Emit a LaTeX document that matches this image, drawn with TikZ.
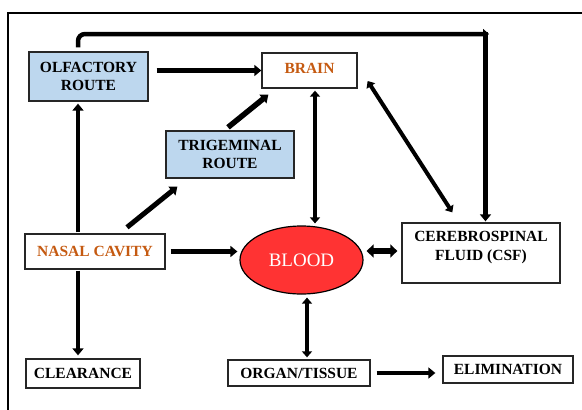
\documentclass[tikz,border=0pt]{standalone}
\usepackage{fontspec}
\setmainfont{Liberation Serif}
\newfontfamily\tnr{Liberation Serif}
\usetikzlibrary{arrows.meta,shapes.geometric,calc}
\definecolor{rblue}{HTML}{BDD7EE}
\definecolor{rorange}{HTML}{C55A11}
\definecolor{rred}{HTML}{FF3333}
\begin{document}
\begin{tikzpicture}[x=1pt,y=-1pt,
  box/.style={draw=black!85, line width=1.3pt, rectangle, align=center, inner sep=0pt,
    font=\tnr\bfseries\fontsize{15.5}{18.5}\selectfont},
  routebox/.style={box, fill=rblue},
  orangetext/.style={text=rorange},
  arr/.style={line width=4.5pt, -{Triangle[width=11pt,length=7pt]}},
  thinarr/.style={line width=4pt, {Triangle[width=10pt,length=6pt]}-{Triangle[width=10pt,length=6pt]}},
]
\useasboundingbox (0,0) rectangle (582,410);
\draw[line width=1.5pt] (8,410) -- (8,13) -- (582,13);

% nodes
\node[routebox, minimum width=119, minimum height=49] (olf) at (88.5,76.5) {OLFACTORY\\ROUTE};
\node[box, orangetext, minimum width=95, minimum height=35] (brain) at (309.5,70.5) {BRAIN\vphantom{g}};
\node[routebox, minimum width=128, minimum height=47] (trig) at (230,154.5) {TRIGEMINAL\\ROUTE};
\node[box, orangetext, minimum width=140, minimum height=35] (nasal) at (95,251.5) {NASAL CAVITY};
\node[ellipse, draw=black, line width=1.2pt, fill=rred, minimum width=123, minimum height=68,
  inner sep=0pt, text=white, font=\tnr\fontsize{19}{22}\selectfont] (blood) at (301.5,260) {BLOOD};
\node[box, minimum width=158, minimum height=60] (csf) at (481,253) {};
\node[font=\tnr\bfseries\fontsize{15.5}{19}\selectfont, align=center, inner sep=0pt] (csftext) at (481,247.5) {CEREBROSPINAL\\FLUID (CSF)};
\node[box, minimum width=114, minimum height=29] (clear) at (83,373.5) {CLEARANCE};
\node[box, minimum width=142, minimum height=26] (organ) at (299,373) {ORGAN/TISSUE};
\node[box, minimum width=130, minimum height=27] (elim) at (508,369.5) {ELIMINATION};

% top route olfactory -> CSF
\coordinate (corner) at (489,34);
\draw[line width=4.5pt, rounded corners=7, -{Triangle[width=10pt,length=6pt]}]
  ($(olf.north)+(-10.5,-4)$) |- (corner);
\draw[arr] ($(corner)+(-3.5,-2)$) -- ($(csf.north)+(4.5,-1)$);

% arrows
\draw[arr] ($(olf.east |- brain.west)+(8,0)$) -- (brain.west);
\draw[arr, line width=5.5pt] ($(trig.north)+(-2,-3)$) -- ($(brain.south west)+(7,6)$);
\draw[arr, line width=5pt] ($(nasal.north)+(32,-6)$) -- ($(trig.south west)+(12,8)$);
\draw[arr] ($(nasal.north)+(-17,-1)$) -- ($(olf.south)+(-10.5,2)$);
\draw[arr] ($(nasal.east)+(5,0)$) -- ($(blood.west |- nasal.east)+(-2,0)$);
\draw[arr] ($(nasal.south)+(-17,1)$) -- ($(clear.north)+(-5,-3)$);
\draw[thinarr] ($(brain.south)+(5.5,2)$) -- ($(blood.north)+(13.5,-2)$);
\draw[thinarr] ($(brain.east)+(10,10.5)$) -- ($(csf.north west)+(51,-10)$);
\draw[line width=5.5pt, {Triangle[width=13pt,length=7pt]}-{Triangle[width=13pt,length=7pt]}]
  ($(blood.east)+(3,-9)$) -- ($(csf.west)+(-4,-2)$);
\draw[thinarr] ($(blood.south)+(5.5,3)$) -- ($(organ.north)+(8,-2)$);
\draw[arr] ($(organ.east)+(6,0)$) -- ($(elim.west |- organ.east)+(-7,0)$);
\end{tikzpicture}
\end{document}
